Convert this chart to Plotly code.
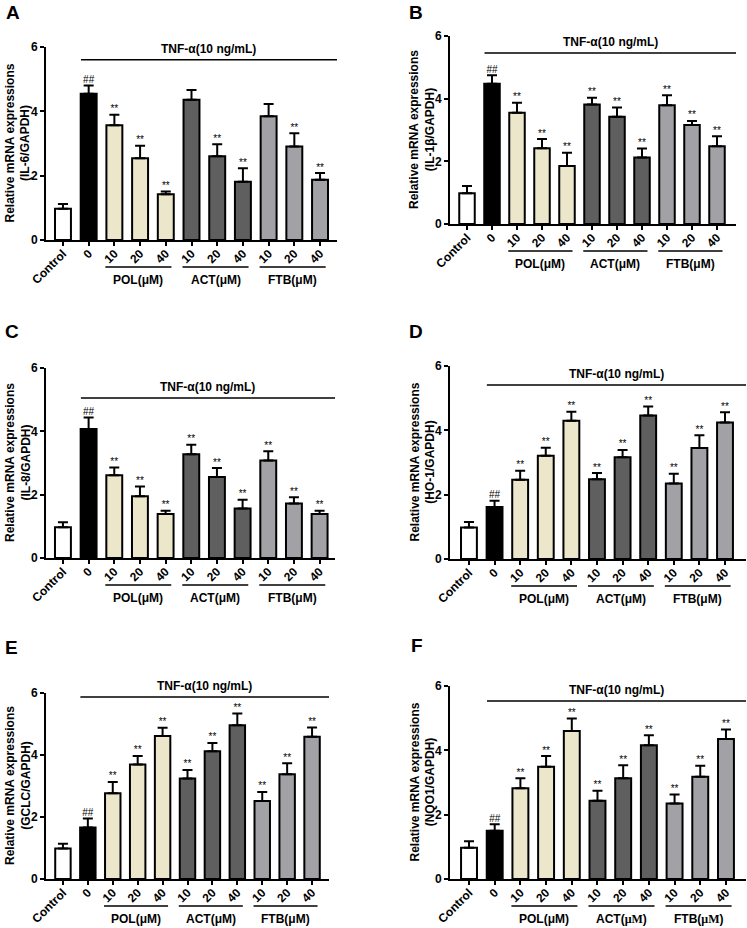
import plotly.graph_objects as go

W, H = 747, 928
FONT = "Liberation Sans, Arial, sans-serif"

doses = ["Control", "0", "10", "20", "40", "10", "20", "40", "10", "20", "40"]
groups = ["POL(μM)", "ACT(μM)", "FTB(μM)"]
group_first = [2, 5, 8]
group_last = [4, 7, 10]
treatment = "TNF-α(10 ng/mL)"

panels = ["A", "B", "C", "D", "E", "F"]
genes = ["IL-6", "IL-1β", "IL-8", "HO-1", "GCLC", "NQO1"]

il6_mean = [0.97, 4.55, 3.57, 2.54, 1.42, 4.36, 2.60, 1.81, 3.85, 2.91, 1.87]
il6_err = [0.15, 0.25, 0.32, 0.39, 0.09, 0.30, 0.38, 0.42, 0.38, 0.41, 0.21]
il6_sig = ["", "##", "**", "**", "**", "", "**", "**", "", "**", "**"]

il1b_mean = [0.98, 4.48, 3.55, 2.42, 1.85, 3.81, 3.42, 2.12, 3.79, 3.16, 2.48]
il1b_err = [0.23, 0.27, 0.32, 0.29, 0.42, 0.22, 0.30, 0.29, 0.32, 0.13, 0.32]
il1b_sig = ["", "##", "**", "**", "**", "**", "**", "**", "**", "**", "**"]

il8_mean = [0.97, 4.07, 2.61, 1.95, 1.39, 3.28, 2.56, 1.56, 3.08, 1.72, 1.39]
il8_err = [0.16, 0.37, 0.25, 0.31, 0.10, 0.30, 0.28, 0.28, 0.29, 0.20, 0.10]
il8_sig = ["", "##", "**", "**", "**", "**", "**", "**", "**", "**", "**"]

ho1_mean = [0.98, 1.62, 2.46, 3.21, 4.30, 2.48, 3.16, 4.46, 2.35, 3.45, 4.24]
ho1_err = [0.17, 0.19, 0.28, 0.25, 0.28, 0.19, 0.23, 0.28, 0.30, 0.40, 0.32]
ho1_sig = ["", "##", "**", "**", "**", "**", "**", "**", "**", "**", "**"]

gclc_mean = [0.98, 1.66, 2.77, 3.69, 4.61, 3.24, 4.12, 4.96, 2.52, 3.38, 4.59]
gclc_err = [0.16, 0.29, 0.36, 0.28, 0.27, 0.28, 0.27, 0.38, 0.29, 0.35, 0.30]
gclc_sig = ["", "##", "**", "**", "**", "**", "**", "**", "**", "**", "**"]

nqo1_mean = [0.97, 1.50, 2.82, 3.49, 4.60, 2.43, 3.13, 4.16, 2.35, 3.18, 4.35]
nqo1_err = [0.20, 0.20, 0.31, 0.33, 0.39, 0.31, 0.41, 0.31, 0.28, 0.34, 0.30]
nqo1_sig = ["", "##", "**", "**", "**", "**", "**", "**", "**", "**", "**"]

means = [il6_mean, il1b_mean, il8_mean, ho1_mean, gclc_mean, nqo1_mean]
errs = [il6_err, il1b_err, il8_err, ho1_err, gclc_err, nqo1_err]
sigs = [il6_sig, il1b_sig, il8_sig, ho1_sig, gclc_sig, nqo1_sig]

bar_colors = ["white", "black"] + ["#ECE6CB"] * 3 + ["#5F5F5F"] * 3 + ["#A2A2A6"] * 3

# pixel layout of each panel: axis left, axis right, top (y=6), bottom (y=0), x range, TNF line level
geom = [
    (46, 337, 47, 240, [-0.66, 10.66], 5.60),
    (450, 736, 36, 224, [-0.68, 10.76], 5.46),
    (46, 335, 368, 558, [-0.66, 10.60], 5.05),
    (450, 746, 366, 559, [-0.74, 10.82], 5.41),
    (46, 329, 693, 879, [-0.68, 10.68], 5.87),
    (450, 746, 686, 879, [-0.74, 10.78], 5.53),
]
letter_pos = [(13, 12), (416, 12), (12, 331), (416, 331), (12, 647), (417, 645)]


def px(x):
    return x / W


def py(y):
    return 1 - y / H


fig = go.Figure()
layout = {}
annotations = []
shapes = []
xs = list(range(len(doses)))

for i in range(6):
    x0, x1, yt, yb, xr, tnf_y = geom[i]
    sx = "" if i == 0 else str(i + 1)
    xa, ya = "x" + sx, "y" + sx

    fig.add_trace(go.Bar(
        x=xs, y=means[i], xaxis=xa, yaxis=ya, width=0.62,
        marker=dict(color=bar_colors, line=dict(color="black", width=2)),
        error_y=dict(type="data", symmetric=False, array=errs[i],
                     arrayminus=[0] * len(xs), color="black", thickness=2, width=5),
        showlegend=False, hoverinfo="skip",
    ))
    fig.add_trace(go.Scatter(
        x=xs, y=[m + e for m, e in zip(means[i], errs[i])], xaxis=xa, yaxis=ya,
        mode="text", text=sigs[i], textposition="top center",
        textfont=dict(family=FONT, size=10, color="black"),
        cliponaxis=False, showlegend=False, hoverinfo="skip",
    ))

    layout["xaxis" + sx] = dict(
        domain=[px(x0), px(x1)], anchor=ya, range=xr, automargin=False,
        tickmode="array", tickvals=xs, ticktext=["<b>%s</b>" % d for d in doses],
        tickangle=-45, tickfont=dict(family=FONT, size=12, color="black"),
        ticklabelstandoff=-4,
        showline=True, linecolor="black", linewidth=2,
        ticks="outside", ticklen=4, tickwidth=1.5, tickcolor="black",
        showgrid=False, zeroline=False, fixedrange=True,
    )
    layout["yaxis" + sx] = dict(
        domain=[py(yb), py(yt)], anchor=xa, range=[0, 6], automargin=False,
        tickmode="array", tickvals=[0, 2, 4, 6], ticktext=["<b>0</b>", "<b>2</b>", "<b>4</b>", "<b>6</b>"],
        tickfont=dict(family=FONT, size=12, color="black"),
        showline=True, linecolor="black", linewidth=2,
        ticks="outside", ticklen=4, tickwidth=2, tickcolor="black",
        showgrid=False, zeroline=False, fixedrange=True,
    )

    # panel letter
    lx, ly = letter_pos[i]
    annotations.append(dict(text="<b>%s</b>" % panels[i], x=px(lx), y=py(ly), xref="paper", yref="paper",
                            showarrow=False, xanchor="center", yanchor="middle",
                            font=dict(family=FONT, size=19, color="black")))
    # y title
    annotations.append(dict(text="<b>Relative mRNA expressions<br>(%s/GAPDH)</b>" % genes[i],
                            x=px(x0 - 28), y=py((yt + yb) / 2), xref="paper", yref="paper",
                            showarrow=False, textangle=-90, xanchor="center", yanchor="middle",
                            font=dict(family=FONT, size=12, color="black")))
    # TNF bracket
    shapes.append(dict(type="line", xref=xa, yref=ya, x0=0.7, x1=xr[1], y0=tnf_y, y1=tnf_y,
                       line=dict(color="black", width=1.5)))
    annotations.append(dict(text="<b>%s</b>" % treatment, x=(0.7 + xr[1]) / 2, y=tnf_y,
                            xref=xa, yref=ya, showarrow=False, yanchor="bottom", yshift=2,
                            font=dict(family=FONT, size=12, color="black")))
    # group brackets under the dose labels
    for g, name in enumerate(groups):
        a, b = group_first[g] - 0.35, group_last[g] + 0.22
        shapes.append(dict(type="line", xref=xa, yref="paper", x0=a, x1=b,
                           y0=py(yb + 27), y1=py(yb + 27), line=dict(color="black", width=1.5)))
        label = name
        if i == 5 and g > 0:
            label = name.replace("(μM)", "(<span style='font-family:Liberation Serif'>μM</span>)")
        annotations.append(dict(text="<b>%s</b>" % label, x=(a + b) / 2, y=py(yb + 40),
                                xref=xa, yref="paper", showarrow=False,
                                xanchor="center", yanchor="middle",
                                font=dict(family=FONT, size=12, color="black")))

fig.update_layout(
    width=W, height=H, margin=dict(l=0, r=0, t=0, b=0),
    paper_bgcolor="white", plot_bgcolor="white", hovermode=False,
    annotations=annotations, shapes=shapes, **layout,
)

# drop the page's default 8px body margin so the figure fills the window
fig.write_html("out.html", config={"displayModeBar": False},
               post_script="document.body.style.margin = '0';")
